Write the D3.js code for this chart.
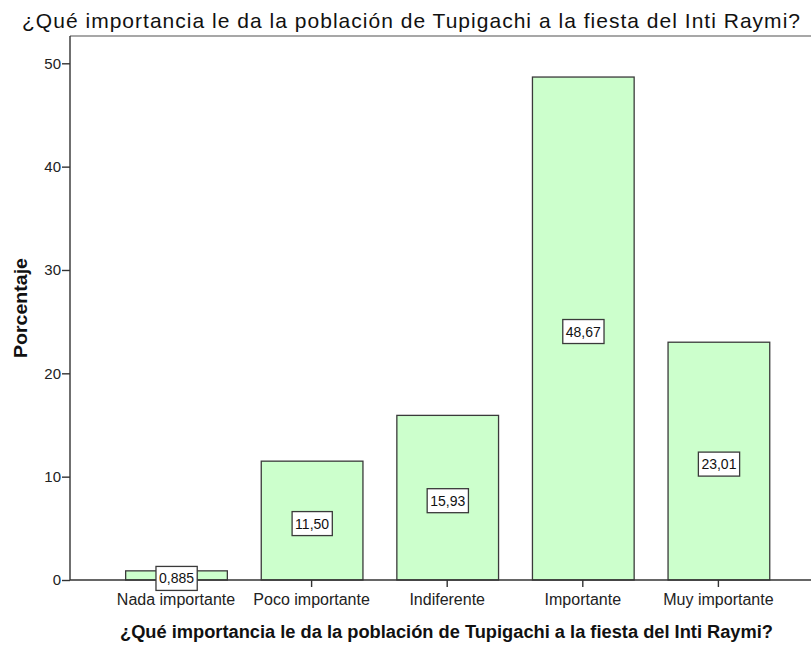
<!DOCTYPE html>
<html><head><meta charset="utf-8">
<script src="https://cdn.jsdelivr.net/npm/d3@7"></script>
<style>body{margin:0;background:#fff}svg{display:block}text{font-family:"Liberation Sans",Arial,sans-serif}</style>
</head><body>
<script>
const categories = ["Nada importante","Poco importante","Indiferente","Importante","Muy importante"];
const values = [0.885, 11.50, 15.93, 48.67, 23.01];
const valueLabels = ["0,885","11,50","15,93","48,67","23,01"];
const yTicks = [0,10,20,30,40,50];
const title = "¿Qué importancia le da la población de Tupigachi a la fiesta del Inti Raymi?";
const yTitle = "Porcentaje";

const W = 811, H = 646;
const svg = d3.select("body").append("svg").attr("width", W).attr("height", H);
const x0 = 70, plotTop = 36, plotBottom = 580;
const y = d3.scaleLinear().domain([0, 50]).range([plotBottom, 63.3]);
const x = d3.scaleBand().domain(categories).range([108.2, 786.2]).paddingInner(0.25).paddingOuter(0.125);

// frame top
svg.append("line").attr("x1", x0).attr("x2", W).attr("y1", plotTop).attr("y2", plotTop).attr("stroke", "#8a8a8a").attr("stroke-width", 1.6);

// bars
svg.selectAll("rect.bar").data(values).enter().append("rect")
  .attr("x", (d,i) => x(categories[i]) + 0.5)
  .attr("width", x.bandwidth())
  .attr("y", d => y(d))
  .attr("height", d => plotBottom - y(d))
  .attr("fill", "#ccffcc").attr("stroke", "#3a3a3a").attr("stroke-width", 1.3);

// axes
const ya = d3.axisLeft(y).tickValues(yTicks).tickSize(8).tickFormat(d3.format("d"));
const gy = svg.append("g").attr("transform", `translate(${x0},0)`).call(ya);
gy.select(".domain").attr("d", `M0,${plotTop}V${plotBottom}`).attr("stroke", "#333").attr("stroke-width", 1.4);
gy.selectAll(".tick line").attr("stroke", "#333").attr("stroke-width", 1.4);
gy.selectAll(".tick text").attr("font-size", 15).attr("fill", "#222").attr("x", -9).style("font-family", "Liberation Sans, Arial");

const xa = d3.axisBottom(x).tickSize(7);
const gx = svg.append("g").attr("transform", `translate(0,${plotBottom})`).call(xa);
gx.select(".domain").attr("d", `M${x0},0H${W}`).attr("stroke", "#333").attr("stroke-width", 1.4);
gx.selectAll(".tick line").attr("stroke", "#333").attr("stroke-width", 1.4);
gx.selectAll(".tick text").attr("font-size", 16).attr("fill", "#222").attr("y", 25).attr("dy", null).style("font-family", "Liberation Sans, Arial");

// value labels
const lg = svg.selectAll("g.vl").data(values).enter().append("g")
  .attr("transform", (d,i) => `translate(${x(categories[i]) + x.bandwidth()/2 + 0.5},${(y(d)+plotBottom)/2 + 3})`);
lg.append("text").text((d,i) => valueLabels[i]).attr("text-anchor", "middle").attr("dy", "0.36em").attr("font-size", 14).attr("fill", "#111")
  .each(function(){
    const b = this.getBBox();
    d3.select(this.parentNode).insert("rect", "text")
      .attr("x", b.x - 3).attr("y", -12).attr("width", b.width + 6).attr("height", 24)
      .attr("fill", "#fff").attr("stroke", "#3a3a3a").attr("stroke-width", 1.3);
  });

// titles
svg.append("text").attr("x", 411).attr("y", 28).attr("text-anchor", "middle").attr("font-size", 21)
  .attr("fill", "#111").attr("textLength", 778).attr("lengthAdjust", "spacing").text(title);
svg.append("text").attr("x", 446.5).attr("y", 638).attr("text-anchor", "middle").attr("font-size", 18).attr("font-weight", "bold")
  .attr("fill", "#111").attr("textLength", 653).attr("lengthAdjust", "spacingAndGlyphs").text(title);
svg.append("text").attr("transform", "translate(27,308) rotate(-90)").attr("text-anchor", "middle").attr("font-size", 17.5).attr("font-weight", "bold")
  .attr("fill", "#111").attr("textLength", 100).attr("lengthAdjust", "spacingAndGlyphs").text(yTitle);
</script>
</body></html>
